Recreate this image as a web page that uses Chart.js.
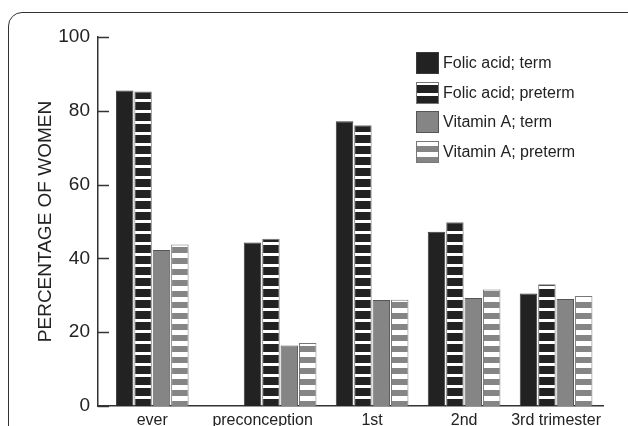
<!DOCTYPE html>
<html>
<head>
<meta charset="utf-8">
<script src="https://cdn.jsdelivr.net/npm/chart.js"></script>
<style>
  html, body { margin: 0; padding: 0; background: #fff; }
  #wrap { position: relative; width: 628px; height: 426px; overflow: hidden; }
  #frame {
    position: absolute; left: 8px; top: 12px; width: 660px; height: 460px;
    border: 1.5px solid #333; border-radius: 14px; pointer-events: none;
  }
</style>
</head>
<body>
<div id="wrap">
  <canvas id="chart" width="628" height="426"></canvas>
  <div id="frame"></div>
</div>
<script>
// data
const categories = ["ever", "preconception", "1st", "2nd", "3rd trimester"];
const folicTerm = [85.5, 44.3, 77.2, 47.2, 30.5];
const folicPreterm = [85.2, 45.3, 76.1, 49.8, 33];
const vitATerm = [42.3, 16.4, 28.7, 29.3, 29];
const vitAPreterm = [43.8, 17.1, 28.8, 31.6, 29.8];
const yTicks = [0, 20, 40, 60, 80, 100];

// the first group stands a bit further from the others
const slots = categories.map((c, i) => (i === 0 ? 0 : i + 0.39));
// in the original the "preconception" label sits a little left of its bars
const labelSlots = slots.map((s, i) => (i === 1 ? s - 0.19 : s));

// striped fills
function stripes(color, gap, period) {
    const c = document.createElement("canvas");
    c.width = 4;
    c.height = period;
    const g = c.getContext("2d");
    g.fillStyle = "#fff";
    g.fillRect(0, 0, 4, period);
    g.fillStyle = color;
    g.fillRect(0, gap, 4, period - gap);
    return document.getElementById("chart").getContext("2d").createPattern(c, "repeat");
}

const DARK = "#222";
const GREY = "#858585";
const darkStripes = stripes(DARK, 3, 11);
const greyStripes = stripes(GREY, 5, 11);

const FONT = "'Liberation Sans', Arial, Helvetica, sans-serif";

const toPoints = (arr) => arr.map((v, i) => ({ x: slots[i], y: v }));

const extras = {
    id: "extras",
    afterDraw(chart) {
        const { ctx, chartArea, scales } = chart;
        const y = scales.y;
        ctx.save();
        // inward tick marks on the y axis
        ctx.strokeStyle = "#333";
        ctx.lineWidth = 1.5;
        y.ticks.forEach((t) => {
            const py = Math.round(y.getPixelForValue(t.value)) + 0.5;
            ctx.beginPath();
            ctx.moveTo(chartArea.left, py);
            ctx.lineTo(chartArea.left + 11, py);
            ctx.stroke();
        });

        // legend
        const lx = 416, ly = 52, bw = 23, bh = 22, step = 29.5;
        ctx.font = "16px " + FONT;
        ctx.textBaseline = "middle";
        ctx.textAlign = "left";
        chart.data.datasets.forEach((ds, i) => {
            const top = Math.round(ly + i * step);
            ctx.save();
            ctx.translate(lx, top);
            ctx.fillStyle = ds.backgroundColor;
            ctx.fillRect(0, 0, bw, bh);
            ctx.strokeStyle = ds.borderColor;
            ctx.lineWidth = 1;
            ctx.strokeRect(0.5, 0.5, bw - 1, bh - 1);
            ctx.restore();
            ctx.fillStyle = "#222";
            ctx.fillText(ds.label, lx + bw + 4, top + bh / 2 + 1);
        });
        ctx.restore();
    }
};

new Chart(document.getElementById("chart"), {
    type: "bar",
    data: {
        datasets: [
            { label: "Folic acid; term", data: toPoints(folicTerm), backgroundColor: DARK, borderColor: "#3a3a3a" },
            { label: "Folic acid; preterm", data: toPoints(folicPreterm), backgroundColor: darkStripes, borderColor: "#777" },
            { label: "Vitamin A; term", data: toPoints(vitATerm), backgroundColor: GREY, borderColor: "#555" },
            { label: "Vitamin A; preterm", data: toPoints(vitAPreterm), backgroundColor: greyStripes, borderColor: "#777" }
        ]
    },
    options: {
        responsive: false,
        animation: false,
        devicePixelRatio: 1,
        categoryPercentage: 0.8,
        barPercentage: 0.95,
        borderWidth: 1,
        layout: { padding: { top: 37, right: 25, left: 0, bottom: 0 } },
        plugins: {
            legend: { display: false },
            tooltip: { enabled: false }
        },
        scales: {
            x: {
                type: "linear",
                offset: false,
                min: -0.59,
                max: 4.9,
                afterBuildTicks: (scale) => {
                    scale.ticks = labelSlots.map((v) => ({ value: v }));
                },
                afterFit: (scale) => { scale.height = 20; },
                grid: { display: false, drawTicks: false, offset: false },
                border: { display: true, color: "#333", width: 1.5 },
                ticks: {
                    autoSkip: false,
                    maxRotation: 0,
                    padding: 5,
                    color: "#222",
                    font: { family: FONT, size: 16 },
                    callback: (v) => {
                        const i = labelSlots.indexOf(v);
                        return i >= 0 ? categories[i] : "";
                    }
                }
            },
            y: {
                min: 0,
                max: 100,
                afterBuildTicks: (scale) => {
                    scale.ticks = yTicks.map((v) => ({ value: v }));
                },
                afterFit: (scale) => { scale.width = 98; },
                grid: { display: false, drawTicks: false },
                border: { display: true, color: "#333", width: 1.5 },
                ticks: {
                    padding: 8,
                    color: "#222",
                    font: { family: FONT, size: 19 }
                },
                title: {
                    display: true,
                    text: "PERCENTAGE OF WOMEN",
                    color: "#222",
                    font: { family: FONT, size: 19 },
                    padding: { top: 34, bottom: 0 }
                }
            }
        }
    },
    plugins: [extras]
});
</script>
</body>
</html>
